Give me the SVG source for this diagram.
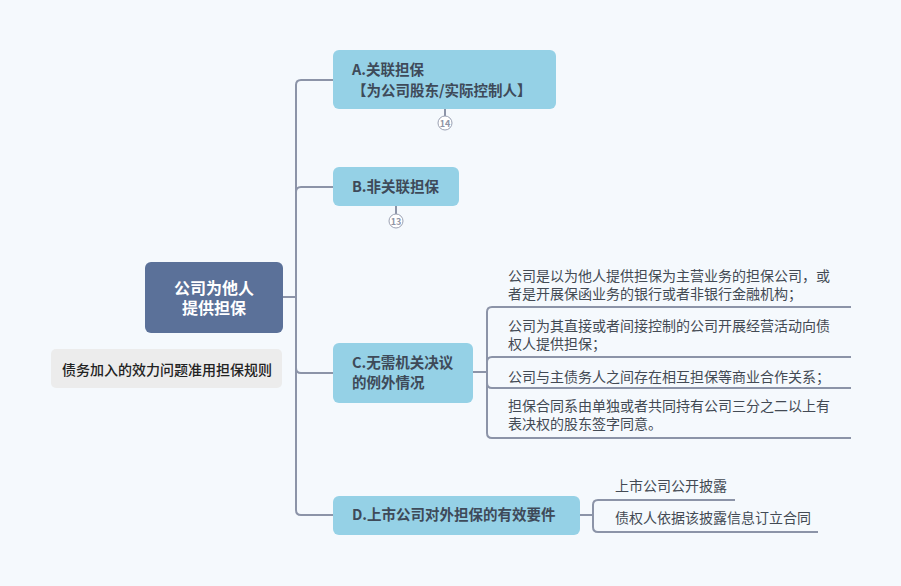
<svg xmlns="http://www.w3.org/2000/svg" width="901" height="586" viewBox="0 0 901 586">
<style>
text{font-family:"Noto Sans CJK SC","Noto Sans",sans-serif}
.nd{fill:#95d1e6}
.nt{font-size:14.5px;font-weight:700;fill:#3e4a59}
.ct{font-size:14px;fill:#434a54}
.ln{fill:none;stroke:#8c94a8;stroke-width:2}
.bd{fill:#fff;stroke:#9ba1b3;stroke-width:1}
.bt{font-size:9px;font-weight:700;fill:#8f95a6;text-anchor:middle}
</style>
<rect width="901" height="586" fill="#f5f9fd"/>
<g id="connectors" class="ln">
<path d="M283 297H296V85Q296 80 301 80H334"/>
<path d="M296 297V192Q296 187 301 187H334"/>
<path d="M296 297V368Q296 373 301 373H334"/>
<path d="M296 297V510Q296 515 301 515H334"/>
<path d="M473 372H487V312Q487 307 492 307H851"/>
<path d="M487 372V362Q487 357 492 357H851"/>
<path d="M487 372V383Q487 388 492 388H851"/>
<path d="M487 372V433Q487 438 492 438H851"/>
<path d="M580 515H593V505Q593 500 598 500H735"/>
<path d="M593 515V527Q593 532 598 532H818"/>
<path d="M445 109V116"/>
<path d="M396 206V214"/>
</g>
<g id="root">
<rect x="145" y="262" width="138" height="71" rx="6" fill="#5b7199"/>
<text text-anchor="middle" font-size="16" font-weight="700" fill="#fff"><tspan x="214" y="294">公司为他人</tspan><tspan x="214" y="314">提供担保</tspan></text>
</g>
<g id="note">
<rect x="51" y="349" width="231" height="39" rx="5" fill="#ececec"/>
<text x="62" y="375" font-size="14" font-weight="500" fill="#222">债务加入的效力问题准用担保规则</text>
</g>
<g id="nodeA">
<rect class="nd" x="333" y="50" width="223" height="59" rx="6"/>
<text class="nt"><tspan x="352" y="75">A.关联担保</tspan><tspan x="352" y="96">【为公司股东/实际控制人】</tspan></text>
<circle class="bd" cx="445" cy="123" r="7"/>
<text class="bt" x="445" y="126.5">14</text>
</g>
<g id="nodeB">
<rect class="nd" x="333" y="167" width="126" height="39" rx="6"/>
<text class="nt" x="352" y="192">B.非关联担保</text>
<circle class="bd" cx="396" cy="221" r="7"/>
<text class="bt" x="396" y="224.5">13</text>
</g>
<g id="nodeC">
<rect class="nd" x="333" y="343" width="140" height="60" rx="6"/>
<text class="nt"><tspan x="352" y="368">C.无需机关决议</tspan><tspan x="352" y="388">的例外情况</tspan></text>
</g>
<g id="c1">
<text class="ct"><tspan x="508" y="281">公司是以为他人提供担保为主营业务的担保公司，或</tspan><tspan x="508" y="299">者是开展保函业务的银行或者非银行金融机构；</tspan></text>
</g>
<g id="c2">
<text class="ct"><tspan x="508" y="331">公司为其直接或者间接控制的公司开展经营活动向债</tspan><tspan x="508" y="349">权人提供担保；</tspan></text>
</g>
<g id="c3">
<text class="ct" x="508" y="382">公司与主债务人之间存在相互担保等商业合作关系；</text>
</g>
<g id="c4">
<text class="ct"><tspan x="508" y="411">担保合同系由单独或者共同持有公司三分之二以上有</tspan><tspan x="508" y="429">表决权的股东签字同意。</tspan></text>
</g>
<g id="nodeD">
<rect class="nd" x="333" y="496" width="247" height="39" rx="6"/>
<text class="nt" x="352" y="520">D.上市公司对外担保的有效要件</text>
</g>
<g id="d1">
<text class="ct" x="615" y="491">上市公司公开披露</text>
</g>
<g id="d2">
<text class="ct" x="615" y="523">债权人依据该披露信息订立合同</text>
</g>
</svg>
